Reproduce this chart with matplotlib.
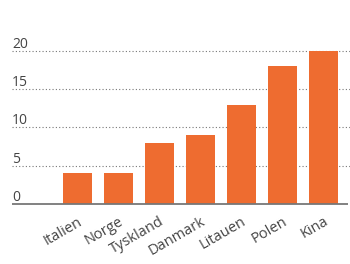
import matplotlib
matplotlib.use("Agg")
import matplotlib.pyplot as plt
from matplotlib.transforms import blended_transform_factory, offset_copy

categories = ["Italien", "Norge", "Tyskland", "Danmark", "Litauen", "Polen", "Kina"]
values = [4, 4, 8, 9, 13, 18, 20]
yticks = [0, 5, 10, 15, 20]

plt.rcParams['font.family'] = ['Open Sans', 'DejaVu Sans']

fig = plt.figure(figsize=(3.5, 2.64), dpi=100)
W, H = 350, 264
ax = fig.add_axes([12 / W, 1 - 204 / H, (350 - 12) / W, (204 - 51) / H])

x = list(range(len(categories)))
ax.bar(x, values, width=0.71, color="#EE6C30", zorder=2)

ax.set_xlim(-1.598, 6.646)
ax.set_ylim(0, 20)

for s in ax.spines.values():
    s.set_visible(False)
ax.set_yticks([])
ax.set_xticks(x)
ax.set_xticklabels([])
ax.tick_params(length=0)

trans = blended_transform_factory(ax.transAxes, ax.transData)
for t in yticks:
    if t == 0:
        ax.plot([0, 336 / 338], [0, 0], transform=trans, color="#777777", lw=1.3, zorder=3, clip_on=False, solid_capstyle='butt')
    else:
        ax.plot([0, 1], [t, t], transform=trans, color="#777777", lw=0.8,
                linestyle=(0, (1, 2)), zorder=1, clip_on=False)
    ax.text(0, t, str(t), transform=offset_copy(trans, fig=fig, x=0, y=-1, units='dots'),
            ha='left', va='bottom', fontsize=10, color="#444444")

for xi, lab in zip(x, categories):
    ax.text(xi, 0, lab,
            transform=offset_copy(ax.transData, fig=fig, x=0, y=-10, units='dots'),
            rotation=30, rotation_mode='anchor', ha='right', va='top',
            fontsize=10.5, color="#444444")

fig.savefig("out.png", dpi=100)
